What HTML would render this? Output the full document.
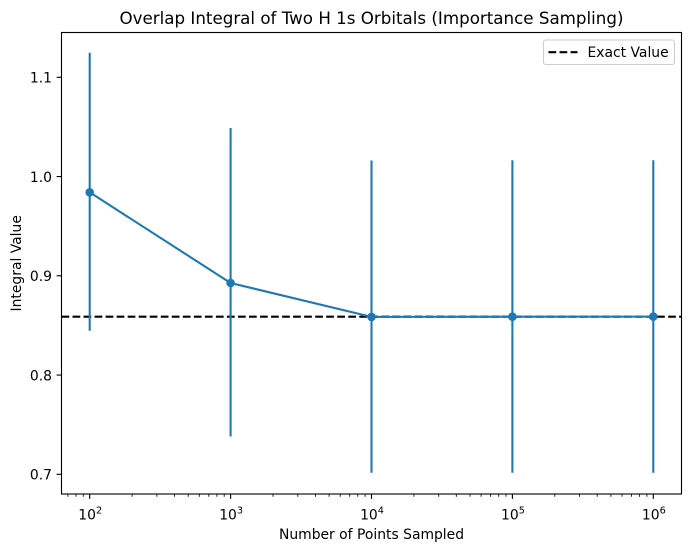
<!DOCTYPE html>
<html>
<head>
<meta charset="utf-8">
<style>
html,body{margin:0;padding:0;background:#fff;}
svg{display:block;}
text{font-family:"DejaVu Sans","Liberation Sans",sans-serif;fill:#000;}
</style>
</head>
<body>
<svg width="691" height="552" viewBox="0 0 691 552" xmlns="http://www.w3.org/2000/svg">
<rect x="0" y="0" width="691" height="552" fill="#fff"/>

<!-- title -->
<text x="371.5" y="24" font-size="16.7" text-anchor="middle">Overlap Integral of Two H 1s Orbitals (Importance Sampling)</text>

<!-- exact value dashed line -->
<line x1="61.5" y1="316.7" x2="681.5" y2="316.7" stroke="#000" stroke-width="2.08" stroke-dasharray="7.7,3.33"/>

<!-- error bars -->
<g stroke="#1f77b4" stroke-width="2.08">
<line x1="89.7" y1="52.7" x2="89.7" y2="330.7"/>
<line x1="230.6" y1="128" x2="230.6" y2="436.5"/>
<line x1="371.5" y1="160.5" x2="371.5" y2="472.7"/>
<line x1="512.4" y1="160.3" x2="512.4" y2="472.7"/>
<line x1="653.3" y1="160.3" x2="653.3" y2="472.7"/>
</g>
<polyline points="89.7,192.3 230.6,283 371.5,316.9 512.4,316.7 653.3,316.6" fill="none" stroke="#1f77b4" stroke-width="2.08" stroke-linejoin="round"/>
<g fill="#1f77b4">
<circle cx="89.7" cy="192.3" r="4.3"/>
<circle cx="230.6" cy="283" r="4.3"/>
<circle cx="371.5" cy="316.9" r="4.3"/>
<circle cx="512.4" cy="316.7" r="4.3"/>
<circle cx="653.3" cy="316.6" r="4.3"/>
</g>

<!-- axes frame -->
<rect x="61.5" y="32.5" width="620" height="461.5" fill="none" stroke="#000" stroke-width="1.11"/>

<!-- x major ticks -->
<g stroke="#000" stroke-width="1.11">
<line x1="89.7" y1="494" x2="89.7" y2="498.9"/>
<line x1="230.6" y1="494" x2="230.6" y2="498.9"/>
<line x1="371.5" y1="494" x2="371.5" y2="498.9"/>
<line x1="512.4" y1="494" x2="512.4" y2="498.9"/>
<line x1="653.3" y1="494" x2="653.3" y2="498.9"/>
</g>
<!-- x minor ticks -->
<g stroke="#000" stroke-width="0.83">
<line x1="67.9" y1="494" x2="67.9" y2="496.8"/>
<line x1="76.0" y1="494" x2="76.0" y2="496.8"/>
<line x1="83.3" y1="494" x2="83.3" y2="496.8"/>
<line x1="132.1" y1="494" x2="132.1" y2="496.8"/>
<line x1="156.9" y1="494" x2="156.9" y2="496.8"/>
<line x1="174.5" y1="494" x2="174.5" y2="496.8"/>
<line x1="188.2" y1="494" x2="188.2" y2="496.8"/>
<line x1="199.3" y1="494" x2="199.3" y2="496.8"/>
<line x1="208.8" y1="494" x2="208.8" y2="496.8"/>
<line x1="216.9" y1="494" x2="216.9" y2="496.8"/>
<line x1="224.2" y1="494" x2="224.2" y2="496.8"/>
<line x1="273.0" y1="494" x2="273.0" y2="496.8"/>
<line x1="297.8" y1="494" x2="297.8" y2="496.8"/>
<line x1="315.4" y1="494" x2="315.4" y2="496.8"/>
<line x1="329.1" y1="494" x2="329.1" y2="496.8"/>
<line x1="340.2" y1="494" x2="340.2" y2="496.8"/>
<line x1="349.7" y1="494" x2="349.7" y2="496.8"/>
<line x1="357.8" y1="494" x2="357.8" y2="496.8"/>
<line x1="365.1" y1="494" x2="365.1" y2="496.8"/>
<line x1="413.9" y1="494" x2="413.9" y2="496.8"/>
<line x1="438.7" y1="494" x2="438.7" y2="496.8"/>
<line x1="456.3" y1="494" x2="456.3" y2="496.8"/>
<line x1="470.0" y1="494" x2="470.0" y2="496.8"/>
<line x1="481.1" y1="494" x2="481.1" y2="496.8"/>
<line x1="490.6" y1="494" x2="490.6" y2="496.8"/>
<line x1="498.7" y1="494" x2="498.7" y2="496.8"/>
<line x1="506.0" y1="494" x2="506.0" y2="496.8"/>
<line x1="554.8" y1="494" x2="554.8" y2="496.8"/>
<line x1="579.6" y1="494" x2="579.6" y2="496.8"/>
<line x1="597.2" y1="494" x2="597.2" y2="496.8"/>
<line x1="610.9" y1="494" x2="610.9" y2="496.8"/>
<line x1="622.0" y1="494" x2="622.0" y2="496.8"/>
<line x1="631.5" y1="494" x2="631.5" y2="496.8"/>
<line x1="639.6" y1="494" x2="639.6" y2="496.8"/>
<line x1="646.9" y1="494" x2="646.9" y2="496.8"/>
</g>

<!-- x tick labels -->
<g font-size="13.9">
<text x="78.3" y="519.7">10<tspan font-size="9.7" dy="-6">2</tspan></text>
<text x="219.2" y="519.7">10<tspan font-size="9.7" dy="-6">3</tspan></text>
<text x="360.1" y="519.7">10<tspan font-size="9.7" dy="-6">4</tspan></text>
<text x="501.0" y="519.7">10<tspan font-size="9.7" dy="-6">5</tspan></text>
<text x="641.9" y="519.7">10<tspan font-size="9.7" dy="-6">6</tspan></text>
</g>
<text x="371.5" y="539" font-size="13.9" text-anchor="middle">Number of Points Sampled</text>

<!-- y ticks -->
<g stroke="#000" stroke-width="1.11">
<line x1="61.5" y1="77.3" x2="56.6" y2="77.3"/>
<line x1="61.5" y1="176.55" x2="56.6" y2="176.55"/>
<line x1="61.5" y1="275.8" x2="56.6" y2="275.8"/>
<line x1="61.5" y1="375.05" x2="56.6" y2="375.05"/>
<line x1="61.5" y1="474.3" x2="56.6" y2="474.3"/>
</g>
<g font-size="13.9" text-anchor="end">
<text x="52" y="82.5">1.1</text>
<text x="52" y="181.8">1.0</text>
<text x="52" y="281">0.9</text>
<text x="52" y="380.3">0.8</text>
<text x="52" y="479.5">0.7</text>
</g>
<text x="0" y="0" font-size="13.9" text-anchor="middle" transform="translate(21,263.3) rotate(-90)">Integral Value</text>

<!-- legend -->
<rect x="543.5" y="40" width="131" height="24.5" rx="2.5" fill="#fff" fill-opacity="0.8" stroke="#cccccc" stroke-width="1.11"/>
<line x1="548.5" y1="52.2" x2="577.5" y2="52.2" stroke="#000" stroke-width="2.08" stroke-dasharray="7.7,3.33"/>
<text x="587.5" y="56.8" font-size="13.9">Exact Value</text>
</svg>
</body>
</html>
